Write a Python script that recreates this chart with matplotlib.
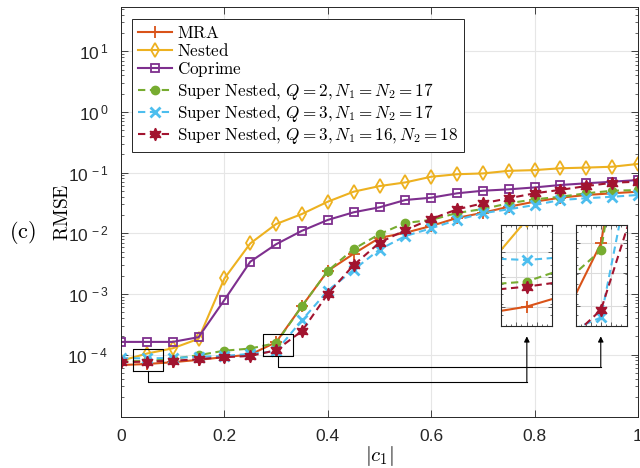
import numpy as np
import matplotlib
matplotlib.use("Agg")
import matplotlib.pyplot as plt
from matplotlib.ticker import FixedLocator, NullFormatter, LogLocator

plt.rcParams["font.family"] = ["Liberation Sans", "DejaVu Sans"]
plt.rcParams["mathtext.fontset"] = "cm"

# |c1| sweep
c1 = [0.00, 0.05, 0.10, 0.15, 0.20, 0.25, 0.30, 0.35, 0.40, 0.45, 0.50,
      0.55, 0.60, 0.65, 0.70, 0.75, 0.80, 0.85, 0.90, 0.95, 1.00]

rmse_mra = [6.74e-5, 7.0e-5, 7.5e-5, 8.2e-5, 9.1e-5, 1.0e-4, 1.6e-4, 6.3e-4,
            2.4e-3, 4.6e-3, 8.4e-3, 1.02e-2, 1.32e-2, 1.79e-2, 2.18e-2,
            2.74e-2, 3.32e-2, 3.86e-2, 4.28e-2, 4.56e-2, 4.85e-2]
rmse_nested = [7.9e-5, 1.04e-4, 1.27e-4, 1.82e-4, 1.8e-3, 6.8e-3, 1.42e-2,
               2.08e-2, 3.32e-2, 4.85e-2, 6.0e-2, 6.9e-2, 8.56e-2, 9.4e-2,
               9.7e-2, 1.07e-1, 1.10e-1, 1.18e-1, 1.21e-1, 1.25e-1, 1.39e-1]
rmse_coprime = [1.62e-4, 1.62e-4, 1.62e-4, 1.94e-4, 7.96e-4, 3.4e-3, 6.6e-3,
                1.1e-2, 1.66e-2, 2.22e-2, 2.68e-2, 3.54e-2, 3.86e-2, 4.56e-2,
                5.03e-2, 5.3e-2, 5.7e-2, 6.25e-2, 6.67e-2, 7.08e-2, 7.55e-2]
rmse_sn_q2 = [7.71e-5, 7.85e-5, 8.49e-5, 9.8e-5, 1.16e-4, 1.26e-4, 1.55e-4,
              6.3e-4, 2.4e-3, 5.5e-3, 9.7e-3, 1.48e-2, 1.66e-2, 2.16e-2,
              2.51e-2, 3.12e-2, 3.63e-2, 4.0e-2, 4.56e-2, 5.03e-2, 5.16e-2]
rmse_sn_q3 = [8.75e-5, 8.66e-5, 8.82e-5, 9.2e-5, 9.5e-5, 1.03e-4, 1.14e-4,
              3.7e-4, 1.13e-3, 2.5e-3, 5.4e-3, 9.0e-3, 1.21e-2, 1.66e-2,
              2.14e-2, 2.49e-2, 2.92e-2, 3.54e-2, 3.78e-2, 4.0e-2, 4.28e-2]
rmse_sn_q3b = [7.5e-5, 7.67e-5, 7.92e-5, 8.4e-5, 9.1e-5, 9.5e-5, 1.18e-4,
               2.45e-4, 1.0e-3, 3.0e-3, 7.0e-3, 1.13e-2, 1.72e-2, 2.48e-2,
               3.12e-2, 3.78e-2, 4.56e-2, 5.2e-2, 6.0e-2, 6.8e-2, 7.1e-2]

labels = [r"$\mathrm{MRA}$",
          r"$\mathrm{Nested}$",
          r"$\mathrm{Coprime}$",
          r"$\mathrm{Super\ Nested},\,Q=2,N_1=N_2=17$",
          r"$\mathrm{Super\ Nested},\,Q=3,N_1=N_2=17$",
          r"$\mathrm{Super\ Nested},\,Q=3,N_1=16,N_2=18$"]

series = [rmse_mra, rmse_nested, rmse_coprime, rmse_sn_q2, rmse_sn_q3, rmse_sn_q3b]
styles = [
    dict(color="#D95319", ls="-", marker="+", ms=8, mew=1.3, mfc="none"),
    dict(color="#EDB120", ls="-", marker="d", ms=7, mew=1.3, mfc="none"),
    dict(color="#7E2F8E", ls="-", marker="s", ms=6, mew=1.3, mfc="none"),
    dict(color="#77AC30", ls=(0, (3.5, 2.2)), marker="o", ms=6, mew=1.0, mfc="#77AC30"),
    dict(color="#4DBEEE", ls=(0, (3.5, 2.2)), marker="x", ms=6.5, mew=2.0, mfc="none"),
    dict(color="#A2142F", ls=(0, (3.5, 2.2)), marker=(6, 1, 0), ms=9, mew=1.0, mfc="#A2142F"),
]

# zoom windows
zoom1_xlim = (0.025, 0.075)
zoom1_ylim = (6.41e-5, 1.016e-4)
zoom2_xlim = (0.275, 0.325)
zoom2_ylim = (1.096e-4, 1.74e-4)
# marker boxes drawn on the main axes (x0, x1, y0, y1)
box1 = (0.0226, 0.0807, 5.33e-5, 1.24e-4)
box2 = (0.2747, 0.332, 9.4e-5, 2.19e-4)

W, H = 640, 468
fig = plt.figure(figsize=(W / 100, H / 100), dpi=100)
ax = fig.add_axes([121 / W, 1 - 416.5 / H, 517 / W, 409.5 / H])

for y, st, lab in zip(series, styles, labels):
    ax.plot(c1, y, lw=1.5, label=lab, **st)

ax.set_yscale("log")
ax.set_xlim(0, 1)
ax.set_ylim(10 ** -5.02, 10 ** 1.73)
ax.set_xticks([0, 0.2, 0.4, 0.6, 0.8, 1.0])
ax.set_xticklabels(["0", "0.2", "0.4", "0.6", "0.8", "1"])
ax.yaxis.set_major_locator(FixedLocator([1e-4, 1e-3, 1e-2, 1e-1, 1e0, 1e1]))
ax.set_yticklabels([r"$\mathdefault{10^{\,-4}}$", r"$\mathdefault{10^{\,-3}}$",
                    r"$\mathdefault{10^{\,-2}}$", r"$\mathdefault{10^{\,-1}}$",
                    r"$\mathdefault{10^{\,0}}$", r"$\mathdefault{10^{\,1}}$"])
ax.yaxis.set_minor_locator(LogLocator(base=10, subs=np.arange(2, 10)))
ax.yaxis.set_minor_formatter(NullFormatter())
ax.tick_params(which="both", direction="in", top=True, right=True,
               colors="#262626", labelcolor="#262626", labelsize=12.5)
ax.tick_params(which="major", length=5, width=0.6)
ax.tick_params(which="minor", length=2.5, width=0.5)
ax.tick_params(axis="x", pad=9)
ax.tick_params(axis="y", pad=9)
ax.grid(True, which="major", color="#e6e6e6", lw=0.8)
ax.set_axisbelow(True)
for s in ax.spines.values():
    s.set_color("#262626")
    s.set_linewidth(0.7)

ax.set_xlabel(r"$|c_1|$", fontsize=15, labelpad=0)
ax.set_ylabel(r"$\mathrm{RMSE}$", fontsize=14, labelpad=-3.5)
fig.text(22 / W, 1 - 232 / H, r"$\mathrm{(c)}$", fontsize=16, ha="center", va="center")

leg = ax.legend(loc="upper left", bbox_to_anchor=(0.0213, 0.9707), borderaxespad=0,
                fontsize=12.3, handlelength=2.0, handletextpad=0.3, labelspacing=0.07,
                borderpad=0.35, fancybox=False, framealpha=1, edgecolor="#262626")
leg.get_frame().set_linewidth(0.7)

# boxes on main axes and connectors to the zoom panels
for (x0, x1, y0, y1) in (box1, box2):
    ax.plot([x0, x1, x1, x0, x0], [y0, y0, y1, y1, y0], color="k", lw=0.8, zorder=5)

conn = [(0.053, 3.5e-5, 0.785, 2.0e-4), (0.303, 6.2e-5, 0.928, 2.0e-4)]
for (bx, ylev, tx, ytip), (x0, x1, y0, y1) in zip(conn, (box1, box2)):
    ax.plot([bx, bx, tx], [y0, ylev, ylev], color="k", lw=0.8, zorder=5)
    ax.annotate("", xy=(tx, ytip), xytext=(tx, ylev),
                arrowprops=dict(arrowstyle="-|>", color="k", lw=0.8,
                                mutation_scale=8, shrinkA=0, shrinkB=0), zorder=5)

# zoom panels
def zoom_panel(rect, xlim, ylim, xt, yt):
    ia = fig.add_axes(rect)
    for y, st in zip(series, styles):
        ia.plot(c1, y, lw=1.5, **st)
    ia.set_yscale("log")
    ia.set_xlim(*xlim)
    ia.set_ylim(*ylim)
    ia.xaxis.set_major_locator(FixedLocator(xt))
    ia.yaxis.set_major_locator(FixedLocator(yt))
    ia.yaxis.set_minor_locator(FixedLocator(np.linspace(ylim[0], ylim[1], 12)))
    ia.xaxis.set_minor_locator(FixedLocator(np.linspace(xlim[0], xlim[1], 11)))
    ia.xaxis.set_major_formatter(NullFormatter())
    ia.yaxis.set_major_formatter(NullFormatter())
    ia.yaxis.set_minor_formatter(NullFormatter())
    ia.tick_params(which="both", direction="in", top=True, right=True, colors="#262626")
    ia.tick_params(which="major", length=3, width=0.5)
    ia.tick_params(which="minor", length=1.5, width=0.5)
    ia.grid(True, which="major", color="#dcdcdc", lw=0.8)
    ia.set_axisbelow(True)
    for s in ia.spines.values():
        s.set_color("#262626")
        s.set_linewidth(0.8)
    return ia

zoom_panel([501 / W, 1 - 326 / H, 51 / W, 101 / H], zoom1_xlim, zoom1_ylim,
           [0.04, 0.05, 0.06], [7e-5, 8e-5, 9e-5])
zoom_panel([575.5 / W, 1 - 326 / H, 51 / W, 101 / H], zoom2_xlim, zoom2_ylim,
           [0.29, 0.30, 0.31], [1.2e-4, 1.4e-4, 1.6e-4])

fig.savefig("out.png", dpi=100)
